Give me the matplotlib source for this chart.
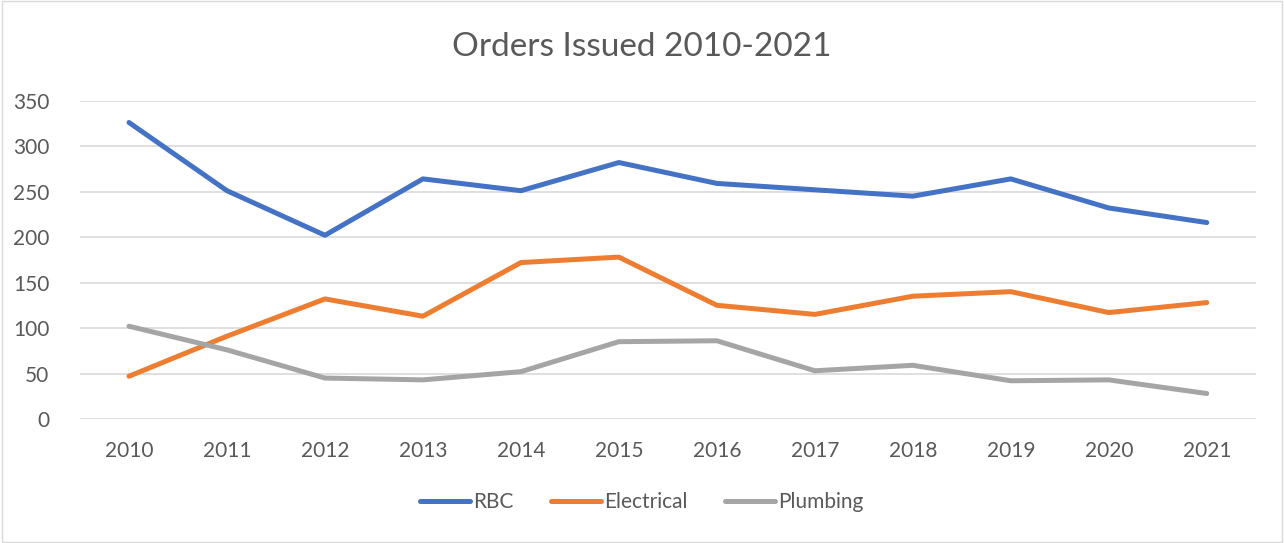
import matplotlib
matplotlib.use("Agg")
import matplotlib.pyplot as plt
from matplotlib.patches import Rectangle

years = ["2010", "2011", "2012", "2013", "2014", "2015", "2016", "2017", "2018", "2019", "2020", "2021"]
rbc = [326, 251, 202, 264, 251, 282, 259, 252, 245, 264, 232, 216]
electrical = [47, 91, 132, 113, 172, 178, 125, 115, 135, 140, 117, 128]
plumbing = [102, 76, 45, 43, 52, 85, 86, 53, 59, 42, 43, 28]
yticks = [0, 50, 100, 150, 200, 250, 300, 350]

plt.rcParams['font.family'] = ['Lato', 'DejaVu Sans']
fig = plt.figure(figsize=(12.84, 5.43), dpi=100)
fig.patches.append(Rectangle((0.0015, 0.002), 0.997, 0.996, transform=fig.transFigure,
                             fill=False, edgecolor='#d9d9d9', linewidth=1))
ax = fig.add_axes([0.0623, 0.2284, 0.9157, 0.5862])
x = list(range(len(years)))
ax.plot(x, rbc, color='#4472c4', lw=3.6, label='RBC', solid_capstyle='round', solid_joinstyle='round')
ax.plot(x, electrical, color='#ed7d31', lw=3.6, label='Electrical', solid_capstyle='round', solid_joinstyle='round')
ax.plot(x, plumbing, color='#a5a5a5', lw=3.6, label='Plumbing', solid_capstyle='round', solid_joinstyle='round')
ax.set_xlim(-0.5, len(years) - 0.5)
ax.set_ylim(0, 350)
ax.set_yticks(yticks)
ax.set_xticks(x)
ax.set_xticklabels(years)
ax.grid(axis='y', color='#d9d9d9', lw=1.2)
ax.set_axisbelow(True)
for s in ax.spines.values():
    s.set_visible(False)
ax.tick_params(length=0, labelsize=15, colors='#595959', pad=16)
ax.tick_params(axis='y', pad=22)
for lab in ax.get_yticklabels():
    lab.set_horizontalalignment('right')
fig.text(0.5, 0.913, "Orders Issued 2010-2021", ha='center', va='center', fontsize=24, color='#595959')
leg = fig.legend(loc='center', bbox_to_anchor=(0.5, 0.075), ncol=3, frameon=False,
                 fontsize=15, handlelength=2.4, handletextpad=0.15, columnspacing=1.8)
for t in leg.get_texts():
    t.set_color('#595959')
fig.savefig("out.png", dpi=100)
